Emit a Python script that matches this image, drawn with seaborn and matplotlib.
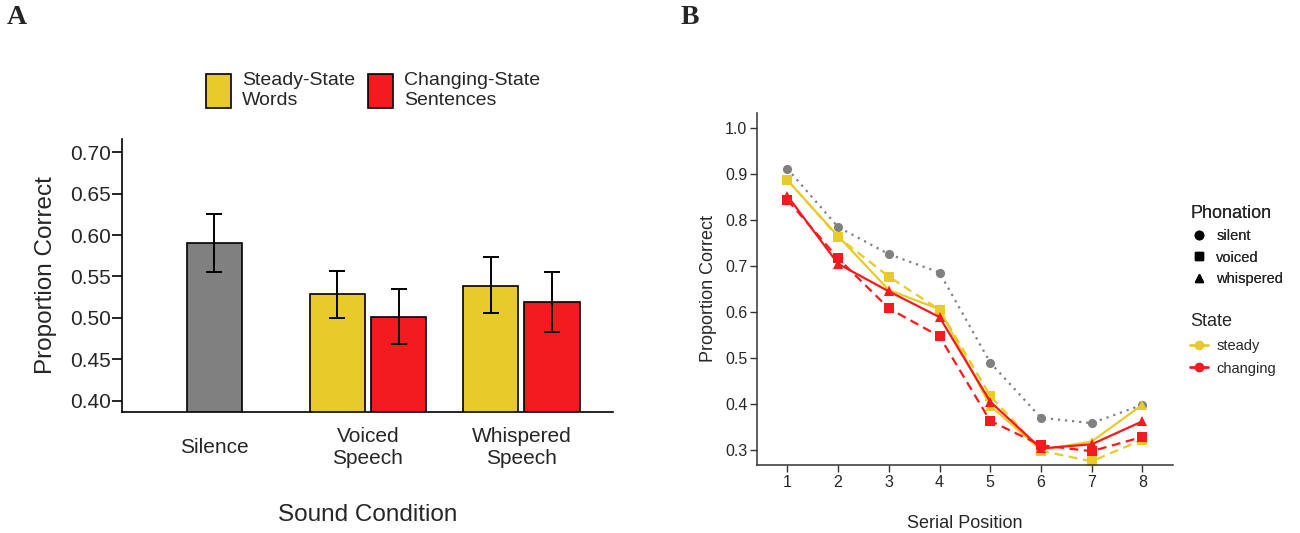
import numpy as np
import pandas as pd
import seaborn as sns
import matplotlib.pyplot as plt
from matplotlib.patches import Patch
from matplotlib.lines import Line2D

# === Panel A data ===
conditions = ["Silence", "Voiced\nSpeech", "Whispered\nSpeech"]
state_labels = ["Steady-State\nWords", "Changing-State\nSentences"]
bar_condition = ["Silence", "Voiced\nSpeech", "Voiced\nSpeech", "Whispered\nSpeech", "Whispered\nSpeech"]
bar_state = ["Silence", "Steady-State\nWords", "Changing-State\nSentences",
             "Steady-State\nWords", "Changing-State\nSentences"]
bar_mean = [0.591, 0.529, 0.501, 0.539, 0.519]
bar_lo = [0.555, 0.500, 0.469, 0.506, 0.483]
bar_hi = [0.626, 0.557, 0.535, 0.573, 0.556]
a_yticks = [0.40, 0.45, 0.50, 0.55, 0.60, 0.65, 0.70]

# === Panel B data ===
positions = [1, 2, 3, 4, 5, 6, 7, 8]
silent_vals = [0.912, 0.785, 0.726, 0.686, 0.490, 0.370, 0.358, 0.398]
voiced_steady = [0.888, 0.763, 0.677, 0.605, 0.418, 0.298, 0.275, 0.322]
voiced_changing = [0.844, 0.717, 0.608, 0.547, 0.363, 0.310, 0.297, 0.328]
whispered_steady = [0.887, 0.765, 0.648, 0.606, 0.396, 0.300, 0.318, 0.398]
whispered_changing = [0.853, 0.705, 0.645, 0.589, 0.405, 0.303, 0.312, 0.362]
b_yticks = [0.3, 0.4, 0.5, 0.6, 0.7, 0.8, 0.9, 1.0]

GRAY = "#808080"
YELLOW = "#E8CA2B"
RED = "#F31B1F"

sns.set_style("white")
plt.rcParams["font.family"] = ["Liberation Sans", "DejaVu Sans"]

fig = plt.figure(figsize=(13, 5.33), dpi=100)

# === Panel A: bars ===
axA = fig.add_axes([0.0942, 0.2276, 0.377, 0.5109])
df_a = pd.DataFrame({"condition": bar_condition, "state": bar_state, "mean": bar_mean})
sil = df_a[df_a.state == "Silence"]
rest = df_a[df_a.state != "Silence"]
sns.barplot(data=sil, x="condition", y="mean", order=conditions, color=GRAY,
            width=0.36, errorbar=None, edgecolor="black", linewidth=1.2,
            saturation=1, ax=axA)
sns.barplot(data=rest, x="condition", y="mean", hue="state", order=conditions,
            hue_order=state_labels, palette=[YELLOW, RED], width=0.8, gap=0.1,
            errorbar=None, edgecolor="black", linewidth=1.2, saturation=1,
            legend=False, ax=axA)

# error bars at bar centres (sorted left to right = data order)
bars = sorted(axA.patches, key=lambda p: p.get_x())
for p, m, lo, hi in zip(bars, bar_mean, bar_lo, bar_hi):
    xc = p.get_x() + p.get_width() / 2
    axA.errorbar(xc, m, yerr=[[m - lo], [hi - m]], color="black", lw=1.4,
                 capsize=6, capthick=1.4, zorder=5)

axA.set_xlim(-0.6, 2.595)
axA.set_ylim(0.3867, 0.7156)
axA.set_yticks(a_yticks)
axA.set_yticklabels([f"{v:.2f}" for v in a_yticks], fontsize=15)
axA.tick_params(axis="y", left=True, length=7, width=1.2, pad=1, color="black")
axA.tick_params(axis="x", bottom=False, length=0, pad=26)
for lab in axA.get_xticklabels():
    lab.set_fontsize(15)
    lab.set_va("center")
    lab.set_multialignment("center")
axA.set_xlabel("Sound Condition", fontsize=17.5, labelpad=25.5)
axA.set_ylabel("Proportion Correct", fontsize=17.5, labelpad=10)
sns.despine(ax=axA)
for s in ["left", "bottom"]:
    axA.spines[s].set_color("black")
    axA.spines[s].set_linewidth(1.2)

handles_a = [Patch(facecolor=YELLOW, edgecolor="black", linewidth=1.2),
             Patch(facecolor=RED, edgecolor="black", linewidth=1.2)]
legA = fig.legend(handles_a, state_labels, loc="upper left", ncol=2,
                  bbox_to_anchor=(206 / 1300, 1 - 72 / 533), frameon=False,
                  fontsize=14, handlelength=1.3, handleheight=2.3,
                  handletextpad=0.55, columnspacing=0.65, borderpad=0,
                  borderaxespad=0)
for t in legA.get_texts():
    t.set_linespacing(1.25)

# === Panel B: lines ===
axB = fig.add_axes([0.5823, 0.1276, 0.3198, 0.661])
rows = []
for phon, state, vals in [("silent", "silent", silent_vals),
                          ("voiced", "steady", voiced_steady),
                          ("voiced", "changing", voiced_changing),
                          ("whispered", "steady", whispered_steady),
                          ("whispered", "changing", whispered_changing)]:
    for pos, v in zip(positions, vals):
        rows.append({"position": pos, "prop": v, "phonation": phon, "state": state})
df_b = pd.DataFrame(rows)

sns.lineplot(data=df_b, x="position", y="prop", hue="state", style="phonation",
             palette={"silent": GRAY, "steady": YELLOW, "changing": RED},
             markers={"silent": "o", "voiced": "s", "whispered": "^"},
             dashes={"silent": (1, 2.2), "voiced": (4, 2.5), "whispered": ""},
             markersize=6.6, markeredgewidth=0, linewidth=1.6, legend=False, ax=axB)

axB.set_xlim(0.4, 8.6)
axB.set_ylim(0.267, 1.034)
axB.set_xticks(positions)
axB.set_yticks(b_yticks)
axB.set_yticklabels([f"{v:.1f}" for v in b_yticks])
axB.tick_params(axis="both", labelsize=11.5, length=5, width=1, color="#333333",
                left=True, bottom=True, pad=2)
axB.set_xlabel("Serial Position", fontsize=13, labelpad=18)
axB.set_ylabel("Proportion Correct", fontsize=13, labelpad=6)
sns.despine(ax=axB)
for s in ["left", "bottom"]:
    axB.spines[s].set_color("#333333")
    axB.spines[s].set_linewidth(1.1)

phon_handles = [Line2D([], [], color="black", marker=m, linestyle="", markersize=6)
                for m in ["o", "s", "^"]]
leg1 = fig.legend(phon_handles, ["silent", "voiced", "whispered"], title="Phonation",
                  loc="upper left", bbox_to_anchor=(1190 / 1300, 1 - 205 / 533),
                  frameon=False, fontsize=10.5, title_fontsize=13, alignment="left",
                  handlelength=1.2, handletextpad=0.6, labelspacing=0.5,
                  borderpad=0, borderaxespad=0)
state_handles = [Line2D([], [], color=c, marker="o", markersize=6, lw=2)
                 for c in [YELLOW, RED]]
leg2 = fig.legend(state_handles, ["steady", "changing"], title="State",
                  loc="upper left", bbox_to_anchor=(1190 / 1300, 1 - 313 / 533),
                  frameon=False, fontsize=10.5, title_fontsize=13, alignment="left",
                  handlelength=1.2, handletextpad=0.6, labelspacing=0.6,
                  borderpad=0, borderaxespad=0)
fig.add_artist(leg1)

# panel letters
fig.text(7 / 1300, 1 - 18 / 533, "A", fontsize=20, fontweight="bold",
         family=["Liberation Serif", "DejaVu Serif"], va="center")
fig.text(681 / 1300, 1 - 17 / 533, "B", fontsize=20, fontweight="bold",
         family=["Liberation Serif", "DejaVu Serif"], va="center")

fig.savefig("out.png", dpi=100)
